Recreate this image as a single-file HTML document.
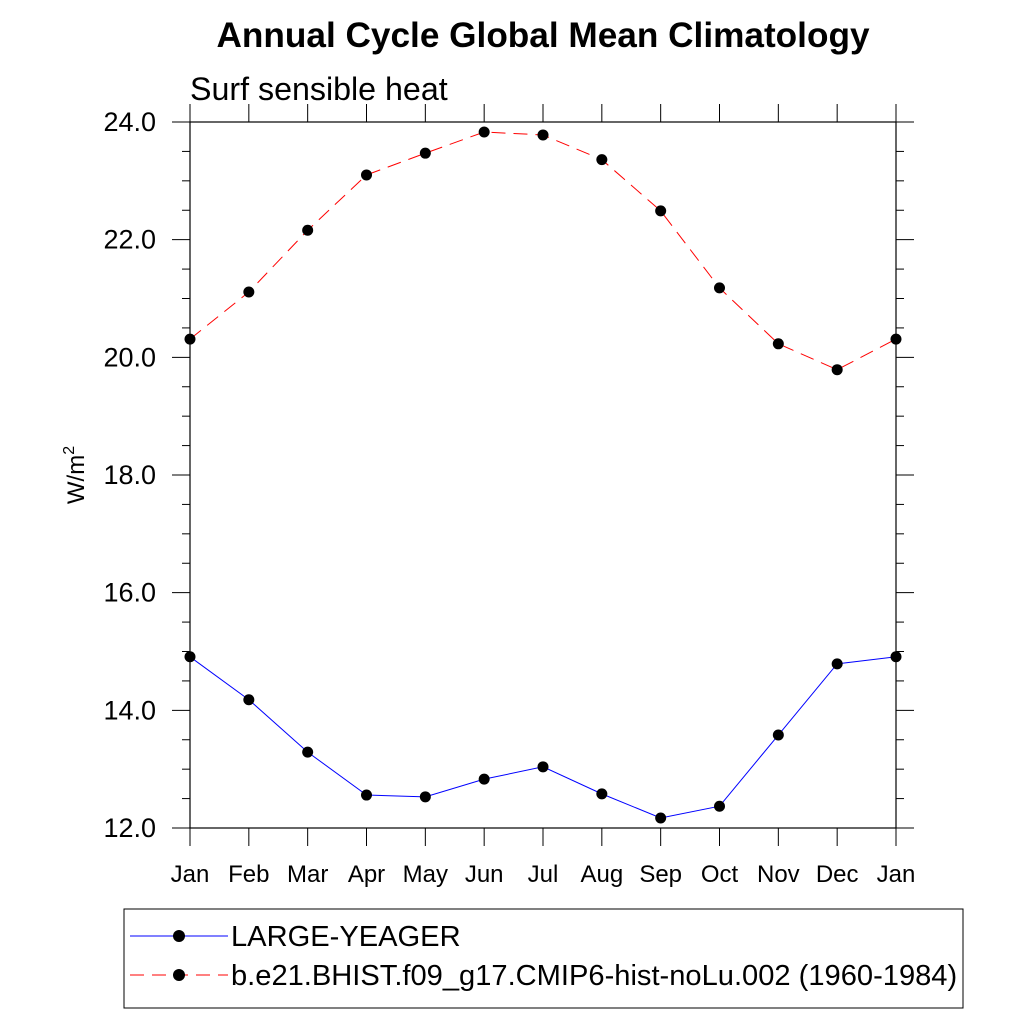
<!DOCTYPE html>
<html><head><meta charset="utf-8"><style>
body{margin:0;background:#fff}
svg text{font-family:"Liberation Sans",sans-serif}
</style></head><body>
<svg id="chart" width="1024" height="1024" viewBox="0 0 1024 1024" xmlns="http://www.w3.org/2000/svg">
<text x="543" y="47" text-anchor="middle" font-size="35.2" font-weight="bold">Annual Cycle Global Mean Climatology</text>
<text x="190" y="100" font-size="32.2">Surf sensible heat</text>
<text transform="translate(84,475) rotate(-90)" text-anchor="middle" font-size="24">W/m<tspan dy="-10" font-size="16">2</tspan></text>
<g id="axes"></g>
<g id="series"></g>
<g>
<rect x="124" y="909" width="839" height="99" fill="none" stroke="#000" stroke-width="1"/>
<line x1="130" y1="936" x2="228" y2="936" stroke="#00f" stroke-width="1"/>
<circle cx="179" cy="936" r="6" fill="#000"/>
<text x="231" y="946" font-size="29.1">LARGE-YEAGER</text>
<line x1="130" y1="975" x2="228" y2="975" stroke="#f00" stroke-width="1" stroke-dasharray="14,8"/>
<circle cx="179" cy="975" r="6" fill="#000"/>
<text x="231" y="985" font-size="29.1">b.e21.BHIST.f09_g17.CMIP6-hist-noLu.002 (1960-1984)</text>
</g>
</svg>
<script>
const months=["Jan","Feb","Mar","Apr","May","Jun","Jul","Aug","Sep","Oct","Nov","Dec","Jan"];
const largeYeager=[14.91,14.18,13.29,12.56,12.53,12.83,13.04,12.58,12.17,12.37,13.58,14.79,14.91];
const bhist=[20.31,21.11,22.16,23.10,23.47,23.83,23.78,23.36,22.49,21.18,20.23,19.79,20.31];
const yTicks=[12,14,16,18,20,22,24];
const yTickLabels=["12.0","14.0","16.0","18.0","20.0","22.0","24.0"];
const NS="http://www.w3.org/2000/svg";
const L=190,R=896,T=122,B=828,ymin=12,ymax=24;
const xs=i=>L+(R-L)*i/(months.length-1);
const ys=v=>B-(v-ymin)/(ymax-ymin)*(B-T);
function mk(tag,attrs,parent){const e=document.createElementNS(NS,tag);for(const k in attrs)e.setAttribute(k,attrs[k]);parent.appendChild(e);return e;}
const ax=document.getElementById('axes');
const frame=mk('rect',{x:L,y:T,width:R-L,height:B-T,fill:'none',stroke:'#000','stroke-width':1.2},ax);


months.forEach((m,i)=>{
  const x=xs(i);
  mk('line',{x1:x,y1:B,x2:x,y2:B+18,stroke:'#000'},ax);
  mk('line',{x1:x,y1:T,x2:x,y2:T-18,stroke:'#000'},ax);
  const t=mk('text',{x:x,y:882,'text-anchor':'middle','font-size':24},ax);
  t.textContent=m;
  
  
});
for(let v=ymin;v<=ymax+1e-9;v+=0.5){
  const y=ys(v),major=Math.abs(v-Math.round(v))<1e-9&&Math.round(v)%2===0,len=major?18:8;
  mk('line',{x1:L,y1:y,x2:L-len,y2:y,stroke:'#000'},ax);
  mk('line',{x1:R,y1:y,x2:R+len,y2:y,stroke:'#000'},ax);
}
yTicks.forEach((v,i)=>{
  const t=mk('text',{x:156,y:ys(v)+9,'text-anchor':'end','font-size':27},ax);
  t.textContent=yTickLabels[i];
  
  
});
const sg=document.getElementById('series');
function drawSeries(vals,color,dash,name){
  const pl=mk('polyline',{points:vals.map((v,i)=>xs(i)+','+ys(v)).join(' '),fill:'none',stroke:color,'stroke-width':1,'stroke-dasharray':dash},sg);
  
  
  vals.forEach((v,i)=>{
    const c=mk('circle',{cx:xs(i),cy:ys(v),r:5.5,fill:'#000'},sg);
    
    
  });
}
drawSeries(largeYeager,'#00f','none','large-yeager');
drawSeries(bhist,'#f00','14,8','bhist');
</script>
</body></html>
